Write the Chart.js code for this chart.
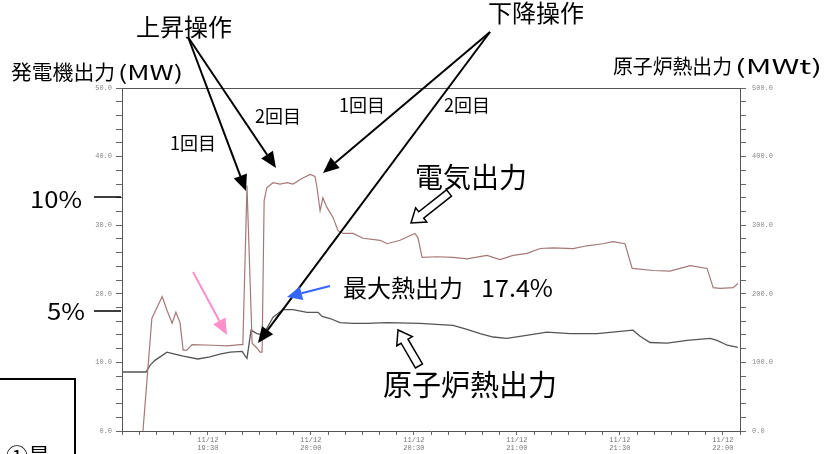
<!DOCTYPE html>
<html>
<head>
<meta charset="utf-8">
<script src="https://cdn.jsdelivr.net/npm/chart.js@4.4.1/dist/chart.umd.min.js"></script>
<style>
  html, body { margin: 0; padding: 0; background: #fff; }
  #wrap { width: 839px; height: 454px; position: relative; }
</style>
</head>
<body>
<div id="wrap"><canvas id="chart"></canvas></div>
<script>
// minutes after 19:00 on 11/12
const elecTime = [11.1, 13.7, 16.7, 18.1, 19.6, 20.7, 21.9, 22.8, 23.9, 25.4, 31.5, 35.6, 39.4, 40.2, 41.4, 42.9, 44.3, 45.2, 45.8,
  46.4, 47.2, 49.0, 51.0, 53.1, 54.8, 57.4, 59.8, 61.2, 61.8, 62.7, 63.5, 64.7, 66.5, 67.9, 69.4, 72.3, 75.2, 80.2, 82.2, 86.0,
  90.3, 91.2, 92.4, 96.8, 101.4, 105.5, 111.3, 115.1, 118.9, 123.0, 126.8, 130.5, 136.4, 140.4, 145.1, 148.0, 151.5, 153.6,
  159.7, 164.6, 170.5, 175.4, 177.2, 179.2, 183.0, 184.4];
const elecMW = [0, 16.4, 19.6, 17.6, 15.7, 17.3, 15.8, 11.8, 11.8, 12.6, 12.5, 12.4, 12.6, 12.6, 35.8, 12.8, 12.1, 11.5, 11.5,
  33.6, 35.5, 36.2, 36.0, 36.2, 36.0, 36.8, 37.4, 37.1, 35.5, 32.1, 34.0, 32.6, 31.1, 29.2, 28.8, 28.8, 28.1, 27.8, 27.3, 27.8,
  28.8, 28.2, 25.3, 25.4, 25.3, 25.1, 25.6, 25.0, 25.6, 25.9, 26.6, 26.7, 26.6, 27.0, 27.3, 27.6, 27.3, 23.7,
  23.4, 23.3, 24.1, 23.7, 20.9, 20.8, 20.9, 21.5];

const heatTime = [5, 12.0, 13.2, 14.6, 18.1, 20.4, 22.8, 27.1, 30.6, 33.5, 36.5, 40.0, 40.8, 41.4, 42.6, 44.3, 46.1, 49.0, 51.9,
  54.8, 58.9, 62.1, 63.3, 65.6, 68.5, 72.3, 76.4, 82.2, 91.8, 101.4, 105.5, 109.3, 113.1, 117.1, 120.9, 128.8, 135.5, 143.4,
  153.8, 155.9, 158.8, 163.8, 169.6, 176.3, 178.3, 181.3, 184.4];
const heatMWt = [86, 86, 96, 103, 115, 112, 109, 105, 108, 112, 115, 116, 110, 106, 147, 142, 140, 166, 177,
  177, 173, 173, 167, 164, 158, 157, 157, 158, 157, 154, 148, 142, 137, 135, 138, 144, 142, 142,
  147, 138, 129, 128, 132, 135, 132, 125, 122];

const timeTicks = [30, 60, 90, 120, 150, 180];
const timeLabels = ['19:30', '20:00', '20:30', '21:00', '21:30', '22:00'];
const dateLabel = '11/12';

const JP = '"Noto Sans CJK JP", "Noto Sans", sans-serif';
const tickFont = { family: '"Liberation Mono", monospace', size: 7 };

function headArrow(ctx, x1, y1, x2, y2, color, hl, hw, lw) {
  const a = Math.atan2(y2 - y1, x2 - x1);
  const bx = x2 - hl * Math.cos(a), by = y2 - hl * Math.sin(a);
  ctx.strokeStyle = color;
  ctx.fillStyle = color;
  ctx.lineWidth = lw;
  ctx.beginPath();
  ctx.moveTo(x1, y1);
  ctx.lineTo(bx, by);
  ctx.stroke();
  ctx.beginPath();
  ctx.moveTo(x2, y2);
  ctx.lineTo(bx + hw * Math.sin(a), by - hw * Math.cos(a));
  ctx.lineTo(bx - hw * Math.sin(a), by + hw * Math.cos(a));
  ctx.closePath();
  ctx.fill();
}

function hollowArrow(ctx, x1, y1, x2, y2) {
  const a = Math.atan2(y2 - y1, x2 - x1);
  const L = Math.hypot(x2 - x1, y2 - y1);
  const sw = 4, hw = 9, hl = 13;
  const pts = [[0, -sw], [L - hl, -sw], [L - hl, -hw], [L, 0], [L - hl, hw], [L - hl, sw], [0, sw]];
  ctx.save();
  ctx.translate(x1, y1);
  ctx.rotate(a);
  ctx.beginPath();
  pts.forEach((p, i) => i ? ctx.lineTo(p[0], p[1]) : ctx.moveTo(p[0], p[1]));
  ctx.closePath();
  ctx.fillStyle = '#fff';
  ctx.fill();
  ctx.strokeStyle = '#000';
  ctx.lineWidth = 1.5;
  ctx.stroke();
  ctx.restore();
}

function label(ctx, text, x, y, size, align) {
  ctx.font = size + 'px ' + JP;
  ctx.fillStyle = '#000';
  ctx.textAlign = align || 'center';
  ctx.textBaseline = 'middle';
  ctx.fillText(text, x, y);
}

// text stretched or squeezed to span [x, x + w]
function fitText(ctx, text, x, y, size, w) {
  ctx.save();
  ctx.font = size + 'px ' + JP;
  ctx.fillStyle = '#000';
  ctx.textAlign = 'left';
  ctx.textBaseline = 'middle';
  const m = ctx.measureText(text).width;
  ctx.translate(x, y);
  ctx.scale(w / m, 1);
  ctx.fillText(text, 0, 0);
  ctx.restore();
}

const notes = {
  id: 'notes',
  afterDraw(chart) {
    const ctx = chart.ctx;
    const ca = chart.chartArea;
    ctx.save();
    // frame top line
    ctx.strokeStyle = '#555';
    ctx.lineWidth = 1;
    ctx.beginPath();
    ctx.moveTo(ca.left, ca.top + 0.5);
    ctx.lineTo(ca.right, ca.top + 0.5);
    ctx.stroke();

    label(ctx, '上昇操作', 184, 27, 24);
    label(ctx, '下降操作', 536, 13, 24);
    fitText(ctx, '発電機出力', 11, 72, 20, 104);
    fitText(ctx, '(MW)', 118, 72, 20, 65);
    fitText(ctx, '原子炉熱出力', 613, 66, 20, 119);
    fitText(ctx, '(MWt)', 735, 66, 20, 87);
    label(ctx, '1回目', 193, 143, 18);
    label(ctx, '2回目', 278, 116, 18);
    label(ctx, '1回目', 362, 105, 18);
    label(ctx, '2回目', 467, 105, 18);
    label(ctx, '電気出力', 471, 177, 28);
    label(ctx, '最大熱出力', 343, 288, 24, 'left');
    fitText(ctx, '17.4%', 481, 288, 24, 72);
    label(ctx, '原子炉熱出力', 470, 385, 29);
    fitText(ctx, '10%', 30, 199, 23, 52);
    fitText(ctx, '5%', 47, 311, 23, 38);

    ctx.strokeStyle = '#000';
    ctx.lineWidth = 1.5;
    ctx.beginPath();
    ctx.moveTo(94, 197); ctx.lineTo(121, 197);
    ctx.moveTo(94, 311); ctx.lineTo(121, 311);
    ctx.stroke();

    headArrow(ctx, 188, 37, 246, 191, '#000', 16, 7, 2);
    headArrow(ctx, 188, 37, 276, 168, '#000', 16, 7, 2);
    headArrow(ctx, 490, 32, 323, 173, '#000', 16, 7, 2);
    headArrow(ctx, 490, 32, 258, 343, '#000', 16, 7, 2);
    headArrow(ctx, 193, 272, 227, 335, '#ff8fc8', 16, 7, 2);
    headArrow(ctx, 330, 286, 287, 297, '#3366ff', 15, 7, 2);

    hollowArrow(ctx, 449, 193, 411, 223);
    hollowArrow(ctx, 419, 366, 398, 330);

    // cut-off box at bottom left
    ctx.strokeStyle = '#000';
    ctx.lineWidth = 2;
    ctx.beginPath();
    ctx.moveTo(0, 379); ctx.lineTo(75, 379); ctx.lineTo(75, 454);
    ctx.stroke();
    ctx.font = '22px ' + JP;
    ctx.fillStyle = '#000';
    ctx.textAlign = 'left';
    ctx.textBaseline = 'top';
    ctx.fillText('①最', 6, 445);
    ctx.restore();
  }
};

new Chart(document.getElementById('chart'), {
  type: 'line',
  data: {
    datasets: [{
      label: '電気出力',
      data: elecTime.map((t, i) => ({ x: t, y: elecMW[i] })),
      borderColor: 'rgb(165,120,120)',
      borderWidth: 1.2,
      pointRadius: 0,
      tension: 0,
      yAxisID: 'y'
    }, {
      label: '原子炉熱出力',
      data: heatTime.map((t, i) => ({ x: t, y: heatMWt[i] })),
      borderColor: '#555',
      borderWidth: 1.3,
      pointRadius: 0,
      tension: 0,
      yAxisID: 'y1'
    }]
  },
  options: {
    responsive: true,
    maintainAspectRatio: false,
    animation: false,
    layout: { padding: { top: 88, left: 0, right: 0, bottom: 0 } },
    plugins: { legend: { display: false }, tooltip: { enabled: false } },
    scales: {
      x: {
        type: 'linear',
        min: 5,
        max: 185,
        afterFit: s => { s.height = 23; },
        border: { display: true, color: '#555', width: 1 },
        grid: { drawOnChartArea: false, color: '#666', tickLength: 4 },
        ticks: {
          stepSize: 5,
          autoSkip: false,
          maxRotation: 0,
          padding: 1,
          color: '#777',
          font: tickFont,
          callback: v => {
            const i = timeTicks.indexOf(v);
            return i < 0 ? '' : [dateLabel, timeLabels[i]];
          }
        }
      },
      y: {
        position: 'left',
        min: 0,
        max: 50,
        afterFit: s => { s.width = 122; },
        border: { display: true, color: '#555', width: 1 },
        grid: { drawOnChartArea: false, color: '#666', tickLength: 6 },
        ticks: {
          stepSize: 2,
          autoSkip: false,
          padding: 4,
          color: '#888',
          font: tickFont,
          callback: v => v % 10 === 0 ? v.toFixed(1) : ''
        }
      },
      y1: {
        position: 'right',
        min: 0,
        max: 500,
        afterFit: s => { s.width = 99; },
        border: { display: true, color: '#555', width: 1 },
        grid: { drawOnChartArea: false, color: '#666', tickLength: 6 },
        ticks: {
          stepSize: 20,
          autoSkip: false,
          padding: 6,
          color: '#888',
          font: tickFont,
          callback: v => v % 100 === 0 ? v.toFixed(1) : ''
        }
      }
    }
  },
  plugins: [notes]
});
</script>
</body>
</html>
